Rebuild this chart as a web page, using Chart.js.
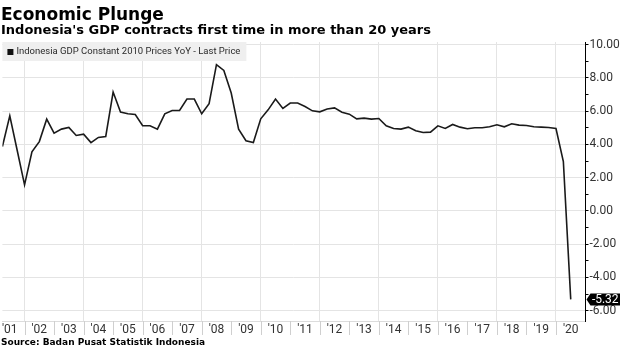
<!DOCTYPE html>
<html lang="en">
<head>
<meta charset="UTF-8">
<title>Economic Plunge</title>
<script src="https://cdn.jsdelivr.net/npm/chart.js"></script>
<style>
  html, body { margin: 0; padding: 0; background: #fff; }
  #wrap { position: relative; width: 620px; height: 348px; }
</style>
</head>
<body>
<div id="wrap"><canvas id="gdpChart" width="620" height="348"></canvas></div>
<script>
// Quarterly real GDP growth, year on year (%)
const quarters = [
  '2001Q1','2001Q2','2001Q3','2001Q4','2002Q1','2002Q2','2002Q3','2002Q4',
  '2003Q1','2003Q2','2003Q3','2003Q4','2004Q1','2004Q2','2004Q3','2004Q4',
  '2005Q1','2005Q2','2005Q3','2005Q4','2006Q1','2006Q2','2006Q3','2006Q4',
  '2007Q1','2007Q2','2007Q3','2007Q4','2008Q1','2008Q2','2008Q3','2008Q4',
  '2009Q1','2009Q2','2009Q3','2009Q4','2010Q1','2010Q2','2010Q3','2010Q4',
  '2011Q1','2011Q2','2011Q3','2011Q4','2012Q1','2012Q2','2012Q3','2012Q4',
  '2013Q1','2013Q2','2013Q3','2013Q4','2014Q1','2014Q2','2014Q3','2014Q4',
  '2015Q1','2015Q2','2015Q3','2015Q4','2016Q1','2016Q2','2016Q3','2016Q4',
  '2017Q1','2017Q2','2017Q3','2017Q4','2018Q1','2018Q2','2018Q3','2018Q4',
  '2019Q1','2019Q2','2019Q3','2019Q4','2020Q1','2020Q2'
];
const gdpYoY = [
  3.87, 5.72, 3.65, 1.57, 3.55, 4.17, 5.52, 4.68,
  4.92, 5.02, 4.54, 4.62, 4.11, 4.42, 4.48, 7.15,
  5.95, 5.84, 5.80, 5.12, 5.12, 4.92, 5.84, 6.04,
  6.04, 6.73, 6.73, 5.84, 6.45, 8.80, 8.45, 7.09,
  4.92, 4.22, 4.11, 5.54, 6.08, 6.73, 6.16, 6.49,
  6.49, 6.28, 6.02, 5.96, 6.13, 6.20, 5.94, 5.82,
  5.54, 5.58, 5.52, 5.56, 5.12, 4.96, 4.92, 5.04,
  4.82, 4.72, 4.74, 5.12, 4.96, 5.20, 5.04, 4.94,
  5.00, 5.00, 5.06, 5.18, 5.06, 5.24, 5.16, 5.14,
  5.06, 5.04, 5.02, 4.96, 2.97, -5.32
];
const years = [2001, 2002, 2003, 2004, 2005, 2006, 2007, 2008, 2009, 2010,
               2011, 2012, 2013, 2014, 2015, 2016, 2017, 2018, 2019, 2020];
const yearLabels = ["'01", "'02", "'03", "'04", "'05", "'06", "'07", "'08", "'09", "'10",
                    "'11", "'12", "'13", "'14", "'15", "'16", "'17", "'18", "'19", "'20"];
const yTicks = [-6, -5, -4, -3, -2, -1, 0, 1, 2, 3, 4, 5, 6, 7, 8, 9, 10];

const seriesName = 'Indonesia GDP Constant 2010 Prices YoY - Last Price';
const titleText = 'Economic Plunge';
const subtitleText = "Indonesia's GDP contracts first time in more than 20 years";
const sourceText = 'Source: Badan Pusat Statistik Indonesia';

const GRID = '#e4e4e4';
const TEXT = '#333';
const HEAD_FONT = '"DejaVu Sans", Verdana, sans-serif';

// each quarter sits at its quarter-end on a fractional-year axis
const points = quarters.map((q, i) => ({
  x: Number(q.slice(0, 4)) + Number(q.slice(5)) / 4,
  y: gdpYoY[i]
}));

// year boundaries carry the grid, mid-years carry the labels
const xTicks = [];
years.forEach(y => { xTicks.push(y + 0.5); xTicks.push(y + 1); });

const decor = {
  id: 'decor',
  beforeDatasetsDraw(chart) {
    const { ctx, chartArea } = chart;
    ctx.save();
    ctx.font = '9.5px Roboto';
    const w = ctx.measureText(seriesName).width;
    ctx.fillStyle = '#efefef';
    ctx.fillRect(chartArea.left, chartArea.top, w + 20, 19);
    ctx.fillStyle = '#111';
    ctx.fillRect(chartArea.left + 5, chartArea.top + 7, 6, 6);
    ctx.fillStyle = '#2a2a2a';
    ctx.textBaseline = 'middle';
    ctx.fillText(seriesName, chartArea.left + 14, chartArea.top + 10);
    ctx.restore();
  },
  afterDraw(chart) {
    const { ctx, chartArea, scales } = chart;
    const xs = scales.x, ys = scales.y;
    ctx.save();

    // headline and subhead
    ctx.fillStyle = '#000';
    ctx.textBaseline = 'alphabetic';
    ctx.font = 'bold 17px ' + HEAD_FONT;
    ctx.fillText(titleText, 1, 19.5);
    ctx.font = 'bold 13px ' + HEAD_FONT;
    ctx.fillText(subtitleText, 1, 33.5);
    ctx.font = 'bold 9px ' + HEAD_FONT;
    ctx.fillText(sourceText, 1, 345);

    // separators between the year labels
    ctx.strokeStyle = '#cfcfcf';
    ctx.lineWidth = 1;
    years.slice(1).forEach(y => {
      const px = Math.round(xs.getPixelForValue(y)) + 0.5;
      ctx.beginPath();
      ctx.moveTo(px, chartArea.bottom);
      ctx.lineTo(px, chartArea.bottom + 14);
      ctx.stroke();
    });

    // last value tag on the right axis
    const last = gdpYoY[gdpYoY.length - 1];
    const ty = ys.getPixelForValue(last);
    const x0 = chartArea.right + 1;
    const x1 = chart.width;
    ctx.fillStyle = '#000';
    ctx.beginPath();
    ctx.moveTo(x0, ty);
    ctx.lineTo(x0 + 4, ty - 6);
    ctx.lineTo(x1, ty - 6);
    ctx.lineTo(x1, ty + 6);
    ctx.lineTo(x0 + 4, ty + 6);
    ctx.closePath();
    ctx.fill();
    ctx.fillStyle = '#fff';
    ctx.font = '12px Roboto';
    ctx.textAlign = 'center';
    ctx.textBaseline = 'middle';
    ctx.fillText(last.toFixed(2), (x0 + 4 + x1) / 2, ty + 0.5);
    ctx.restore();
  }
};

Chart.defaults.font.family = 'Roboto';

new Chart(document.getElementById('gdpChart'), {
  type: 'line',
  data: {
    datasets: [{
      label: seriesName,
      data: points,
      borderColor: '#1a1a1a',
      borderWidth: 1.6,
      pointRadius: 0,
      tension: 0,
      fill: false
    }]
  },
  options: {
    responsive: false,
    animation: false,
    layout: { padding: { top: 42, left: 0, right: 0, bottom: 0 } },
    plugins: {
      legend: { display: false },
      tooltip: { enabled: false }
    },
    scales: {
      x: {
        type: 'linear',
        min: 2001.25,
        max: 2021,
        afterBuildTicks: s => { s.ticks = xTicks.map(v => ({ value: v })); },
        afterFit: s => { s.height = 27; },
        ticks: {
          autoSkip: false,
          maxRotation: 0,
          padding: 2,
          color: TEXT,
          font: { size: 12 },
          callback: v => (v % 1 === 0.5 ? yearLabels[Math.floor(v) - years[0]] : '')
        },
        grid: {
          drawTicks: false,
          color: c => (c.tick && c.tick.value % 2 === 0 ? GRID : 'rgba(0,0,0,0)')
        },
        border: { display: true, color: '#dcdcdc' }
      },
      y: {
        position: 'right',
        min: -6.62,
        max: 10.16,
        afterBuildTicks: s => { s.ticks = yTicks.map(v => ({ value: v })); },
        afterFit: s => { s.width = 34.5; },
        ticks: {
          padding: 1,
          color: TEXT,
          font: { size: 12 },
          callback: v => (v % 2 === 0 ? v.toFixed(2) : '')
        },
        grid: {
          color: c => (c.tick && c.tick.value % 2 === 0 ? GRID : 'rgba(0,0,0,0)'),
          tickColor: '#000',
          tickLength: 3
        },
        border: { color: '#000', width: 1 }
      }
    }
  },
  plugins: [decor]
});
</script>
</body>
</html>
